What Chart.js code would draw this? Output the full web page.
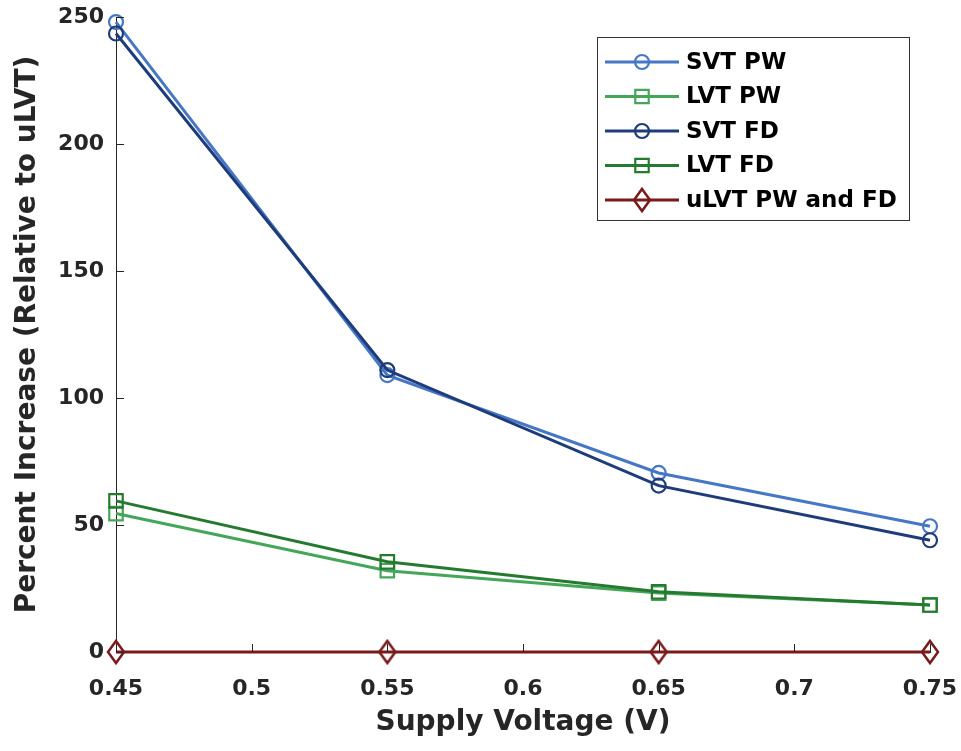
<!DOCTYPE html>
<html>
<head>
<meta charset="utf-8">
<script src="https://cdn.jsdelivr.net/npm/chart.js@4.4.1/dist/chart.umd.min.js"></script>
<style>
  html, body { margin: 0; padding: 0; background: #fff; }
  #wrap { width: 961px; height: 751px; }
</style>
</head>
<body>
<div id="wrap"><canvas id="voltChart" width="961" height="751"></canvas></div>
<script>
// supply voltage sweep
const voltages = [0.45, 0.55, 0.65, 0.75];
const xTicks = [0.45, 0.5, 0.55, 0.6, 0.65, 0.7, 0.75];
const xTickLabels = ["0.45", "0.5", "0.55", "0.6", "0.65", "0.7", "0.75"];
const yTicks = [0, 50, 100, 150, 200, 250];

// percent increase vs uLVT
const svtPw = [248, 109, 70.5, 49.5];
const lvtPw = [54.5, 32, 23.2, 18.5];
const svtFd = [243.5, 111, 65.5, 44];
const lvtFd = [59.5, 35.5, 23.7, 18.5];
const ulvt = [0, 0, 0, 0];

const seriesNames = ["SVT PW", "LVT PW", "SVT FD", "LVT FD", "uLVT PW and FD"];
const seriesColors = ["#4677c6", "#44a659", "#1e3c7a", "#257a2f", "#7a1a1a"];

const FONT = "'DejaVu Sans', sans-serif";
const TEXT = "#262626";

// tall diamond marker, drawn once per colour
function diamond(color) {
  const c = document.createElement("canvas");
  c.width = 22; c.height = 28;
  const g = c.getContext("2d");
  g.strokeStyle = color;
  g.lineWidth = 2.5;
  g.beginPath();
  g.moveTo(11, 3); g.lineTo(19, 14); g.lineTo(11, 25); g.lineTo(3, 14);
  g.closePath();
  g.stroke();
  return c;
}

function series(i, values, style, radius) {
  return {
    label: seriesNames[i],
    data: voltages.map((v, k) => ({ x: v, y: values[k] })),
    borderColor: seriesColors[i],
    borderWidth: 3,
    pointStyle: style,
    pointRadius: radius,
    pointBorderWidth: 2.2,
    pointBorderColor: seriesColors[i],
    pointBackgroundColor: "rgba(0,0,0,0)",
    tension: 0,
    clip: false,
    order: 5 - i
  };
}

// ticks drawn on the inner side of the axes
const innerTicks = {
  id: "innerTicks",
  afterDraw(chart) {
    const { ctx, chartArea: a, scales } = chart;
    ctx.save();
    ctx.strokeStyle = TEXT;
    ctx.lineWidth = 1;
    ctx.beginPath();
    yTicks.forEach((t) => {
      const y = Math.round(scales.y.getPixelForValue(t)) + 0.5;
      ctx.moveTo(a.left, y); ctx.lineTo(a.left + 8, y);
    });
    xTicks.forEach((t) => {
      const x = Math.round(scales.x.getPixelForValue(t)) + 0.5;
      ctx.moveTo(x, a.bottom); ctx.lineTo(x, a.bottom - 8);
    });
    ctx.stroke();
    ctx.restore();
  }
};

// boxed legend in the upper right corner
const boxLegend = {
  id: "boxLegend",
  afterDraw(chart) {
    const { ctx, chartArea: a } = chart;
    const w = 312, h = 183;
    const left = a.right - 21 - w, top = a.top + 20;
    ctx.save();
    ctx.fillStyle = "#fff";
    ctx.fillRect(left, top, w, h);
    ctx.strokeStyle = "#333";
    ctx.lineWidth = 1;
    ctx.strokeRect(left + 0.5, top + 0.5, w, h);
    ctx.font = "bold 23px " + FONT;
    ctx.textBaseline = "middle";
    chart.data.datasets.forEach((ds, i) => {
      const y = top + 25 + i * 34.5;
      ctx.strokeStyle = ds.borderColor;
      ctx.lineWidth = ds.borderWidth;
      ctx.beginPath();
      ctx.moveTo(left + 8, y); ctx.lineTo(left + 82, y);
      ctx.stroke();
      ctx.fillStyle = "rgba(0,0,0,0)";
      ctx.lineWidth = ds.pointBorderWidth;
      Chart.helpers.drawPoint(ctx, {
        pointStyle: ds.pointStyle,
        radius: ds.pointRadius,
        borderWidth: ds.pointBorderWidth,
        rotation: 0
      }, left + 45, y);
      ctx.fillStyle = "#000";
      ctx.fillText(ds.label, left + 89, y + 1);
    });
    ctx.restore();
  }
};

new Chart(document.getElementById("voltChart"), {
  type: "line",
  data: {
    datasets: [
      series(0, svtPw, "circle", 7),
      series(1, lvtPw, "rect", 9.5),
      series(2, svtFd, "circle", 7),
      series(3, lvtFd, "rect", 9.5),
      series(4, ulvt, diamond(seriesColors[4]), 11)
    ]
  },
  options: {
    responsive: false,
    animation: false,
    layout: { padding: { left: 14, right: 31, top: 17, bottom: 4 } },
    plugins: { legend: { display: false }, tooltip: { enabled: false } },
    scales: {
      x: {
        type: "linear",
        min: 0.45,
        max: 0.75,
        afterBuildTicks: (s) => { s.ticks = xTicks.map((v) => ({ value: v })); },
        afterFit: (s) => {
          s.height = 95;
          s.paddingLeft = 0; s.paddingRight = 0;
        },
        grid: { display: false, drawTicks: false },
        border: { display: true, color: TEXT, width: 1 },
        ticks: {
          padding: 24,
          color: TEXT,
          font: { family: FONT, size: 22, weight: "bold" },
          maxRotation: 0,
          callback: (v) => xTickLabels[xTicks.indexOf(v)]
        },
        title: {
          display: true,
          text: "Supply Voltage (V)",
          color: TEXT,
          font: { family: FONT, size: 28, weight: "bold" },
          padding: { top: 0, bottom: 7 }
        }
      },
      y: {
        min: 0,
        max: 250,
        afterBuildTicks: (s) => { s.ticks = yTicks.map((v) => ({ value: v })); },
        afterFit: (s) => {
          s.width = 102;
          s.paddingTop = 0; s.paddingBottom = 0;
        },
        grid: { display: false, drawTicks: false },
        border: { display: true, color: TEXT, width: 1 },
        ticks: {
          padding: 12,
          color: TEXT,
          font: { family: FONT, size: 22, weight: "bold" }
        },
        title: {
          display: true,
          text: "Percent Increase (Relative to uLVT)",
          color: TEXT,
          font: { family: FONT, size: 28, weight: "bold", lineHeight: 1 },
          padding: { top: 0, bottom: 0 }
        }
      }
    }
  },
  plugins: [innerTicks, boxLegend]
});
</script>
</body>
</html>
